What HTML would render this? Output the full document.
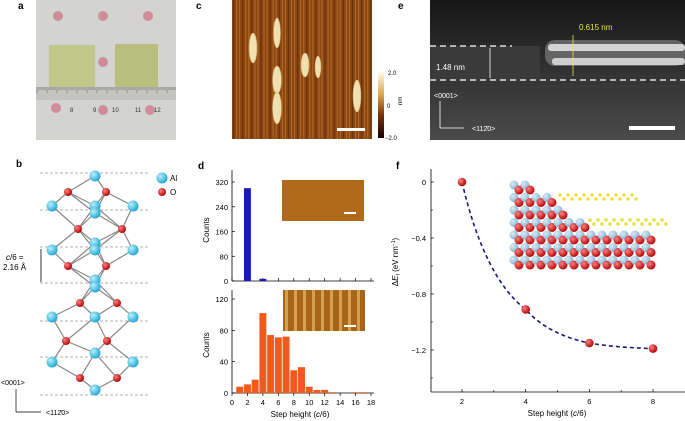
<!DOCTYPE html>
<html><head><meta charset="utf-8"><style>
html,body{margin:0;padding:0;background:#fff;}
svg{display:block;font-family:"Liberation Sans",Arial,sans-serif;}
</style></head><body>
<svg id="fig" width="685" height="421" viewBox="0 0 685 421" xmlns="http://www.w3.org/2000/svg">
<defs>
<linearGradient id="cbar" x1="0" y1="0" x2="0" y2="1"><stop offset="0" stop-color="#fffbe8"/><stop offset="0.35" stop-color="#d9a44a"/><stop offset="0.65" stop-color="#7a3508"/><stop offset="1" stop-color="#120200"/></linearGradient>
<radialGradient id="al" cx="0.35" cy="0.35" r="0.7"><stop offset="0" stop-color="#b8f0ff"/><stop offset="1" stop-color="#1aa6d0"/></radialGradient>
<radialGradient id="ox" cx="0.35" cy="0.35" r="0.7"><stop offset="0" stop-color="#ff8080"/><stop offset="1" stop-color="#b00000"/></radialGradient>
<radialGradient id="alf" cx="0.35" cy="0.35" r="0.7"><stop offset="0" stop-color="#d8ecf8"/><stop offset="1" stop-color="#7fb0d2"/></radialGradient>
<linearGradient id="stemg" x1="0" y1="0" x2="0" y2="1"><stop offset="0" stop-color="#161616"/><stop offset="0.35" stop-color="#2a2a2a"/><stop offset="1" stop-color="#4a4a4a"/></linearGradient>
</defs>

<!-- panel a -->
<g>
<text x="18" y="9" font-size="10" font-weight="bold">a</text>
<rect x="36" y="0" width="140" height="140" fill="#d3d3d0"/>
<rect x="49" y="45" width="46" height="45" fill="#c2c88a"/>
<rect x="115" y="44" width="43" height="46" fill="#b8bf7e"/>
<rect x="36" y="87" width="140" height="13" fill="#c4c4bf"/>
<g id="ticks" stroke="#555" stroke-width="0.5"></g>
<text x="70" y="112" font-size="6" fill="#333">8</text><text x="93" y="112" font-size="6" fill="#333">9</text>
<text x="112" y="112" font-size="6" fill="#333">10</text><text x="135" y="112" font-size="6" fill="#333">11</text><text x="154" y="112" font-size="6" fill="#333">12</text>
<g fill="#d07c8c" opacity="0.8">
<circle cx="58" cy="16" r="5"/><circle cx="103" cy="16" r="5"/><circle cx="148" cy="16" r="5"/><circle cx="103" cy="62" r="5"/>
<circle cx="56" cy="108" r="5"/><circle cx="103" cy="110" r="5"/><circle cx="150" cy="110" r="5"/>
</g>
</g>

<!-- panel c -->
<g>
<text x="196" y="9" font-size="10" font-weight="bold">c</text>
<rect x="232" y="0" width="140" height="139" fill="#8a4510"/>
<g id="afmStripes"></g>
<g fill="#eee0b0" stroke="#c9a460" stroke-width="0.6">
<ellipse cx="253" cy="48" rx="4" ry="15"/><ellipse cx="277" cy="33" rx="3.5" ry="15"/>
<ellipse cx="305" cy="65" rx="4" ry="12"/><ellipse cx="318" cy="67" rx="3" ry="11"/>
<ellipse cx="277" cy="80" rx="4.5" ry="14"/><ellipse cx="277" cy="108" rx="4.5" ry="16"/>
<ellipse cx="357" cy="96" rx="4" ry="16"/>
</g>
<rect x="337" y="128" width="28" height="3" fill="#fff"/>
<rect x="378" y="72" width="6" height="66" fill="url(#cbar)"/>
<text x="388" y="75" font-size="6">2.0</text><text x="387" y="108" font-size="6">0</text><text x="385" y="140" font-size="6">−2.0</text>
<text x="402" y="105" font-size="6" transform="rotate(-90 402 105)">nm</text>
</g>

<!-- panel e -->
<g>
<text x="398" y="9" font-size="10" font-weight="bold">e</text>
<rect x="430" y="0" width="255" height="140" fill="url(#stemg)"/>
<rect x="430" y="46" width="110" height="35" fill="#3a3a3a"/>
<rect x="545" y="40" width="140" height="26" rx="10" fill="#8a8a8a" opacity="0.6"/>
<rect x="548" y="44" width="137" height="7" rx="3" fill="#e8e8e8" opacity="0.85"/>
<rect x="552" y="58" width="133" height="7" rx="3" fill="#e0e0e0" opacity="0.85"/>
<line x1="430" y1="46" x2="512" y2="46" stroke="#fff" stroke-width="1.3" stroke-dasharray="6 4"/>
<line x1="430" y1="80" x2="685" y2="80" stroke="#fff" stroke-width="1.3" stroke-dasharray="6 4"/>
<line x1="490" y1="48" x2="490" y2="78" stroke="#fff" stroke-width="0.8"/>
<text x="436" y="70" font-size="8" fill="#fff">1.48 nm</text>
<text x="579" y="30" font-size="8" fill="#e6e64a">0.615 nm</text>
<line x1="573" y1="35" x2="573" y2="76" stroke="#e6e64a" stroke-width="0.8"/>
<text x="434" y="98" font-size="7" fill="#fff">&lt;0001&gt;</text>
<line x1="440" y1="101" x2="440" y2="128" stroke="#fff" stroke-width="0.8"/>
<line x1="440" y1="128" x2="464" y2="128" stroke="#fff" stroke-width="0.8"/>
<text x="472" y="131" font-size="7" fill="#fff">&lt;112̄0&gt;</text>
<rect x="629" y="126" width="46" height="4" fill="#fff"/>
</g>

<!-- panel b -->
<g id="panelB">
<text x="16" y="167" font-size="10" font-weight="bold">b</text>
<circle cx="162" cy="178" r="5.5" fill="url(#al)"/><text x="170" y="181" font-size="8">Al</text>
<circle cx="162" cy="192" r="4" fill="url(#ox)"/><text x="170" y="195" font-size="8">O</text>
<text x="6" y="260" font-size="8"><tspan font-style="italic">c</tspan>/6 =</text>
<text x="3" y="270" font-size="8">2.16 Å</text>
<line x1="41" y1="249" x2="41" y2="282" stroke="#000" stroke-width="0.8"/>
<text x="1" y="385" font-size="7">&lt;0001&gt;</text>
<line x1="16" y1="389" x2="16" y2="412" stroke="#000" stroke-width="0.7"/>
<line x1="16" y1="412" x2="41" y2="412" stroke="#000" stroke-width="0.7"/>
<text x="46" y="415" font-size="7">&lt;112̄0&gt;</text>
</g>

<!-- panel d -->
<g id="panelD">
<text x="198" y="169" font-size="10" font-weight="bold">d</text>
<rect x="282" y="180" width="82" height="41" fill="#b06a1a"/>
<rect x="344" y="212" width="12" height="2" fill="#fff"/>
<rect x="283" y="290" width="82" height="41" fill="#a86418"/>
<g id="insetStripes"></g>
<rect x="344" y="325" width="12" height="2" fill="#fff"/>
</g>

<!-- panel f -->
<g id="panelF">
<text x="396" y="169" font-size="10" font-weight="bold">f</text>
<g id="slab"></g>
</g>
</svg>
<script>
const NS="http://www.w3.org/2000/svg";
function mk(tag,attrs,parent){const e=document.createElementNS(NS,tag);for(const k in attrs)e.setAttribute(k,attrs[k]);(parent||document.getElementById('fig')).appendChild(e);return e;}

const tk=document.getElementById('ticks');
for(let i=0;i<70;i++){const x=37+i*2;mk('line',{x1:x,y1:87,x2:x,y2:i%5?90:93},tk);}
const afm=document.getElementById('afmStripes');
for(let i=0;i<46;i++){const x=233+i*3.05;mk('rect',{x:x,y:0,width:1.1,height:139,fill:i%3?'#c07a30':'#5a2a08',opacity:0.7},afm);}
const ins=document.getElementById('insetStripes');
for(let i=0;i<9;i++){mk('rect',{x:285+i*9,y:290,width:3,height:41,fill:'#e0b060',opacity:0.8},ins);}

const pb=document.getElementById('panelB');
const layerY=[173,210,247,283,321,357,395];
layerY.forEach(y=>mk('line',{x1:40,y1:y,x2:148,y2:y,stroke:'#999','stroke-width':0.7,'stroke-dasharray':'3 2'},pb));
const alAtoms=[[95,176],[52,206],[95,206],[133,206],[95,213],[52,250],[95,243],[95,250],[133,250],[95,280],[95,287],[52,317],[95,317],[133,317],[95,353],[52,362],[133,362],[95,390]];
const oAtoms=[[68,192],[106,192],[78,229],[122,229],[68,266],[106,266],[80,303],[117,303],[66,341],[107,341],[80,378],[117,378]];
oAtoms.forEach(o=>alAtoms.forEach(a=>{const d=Math.hypot(o[0]-a[0],o[1]-a[1]);if(d<45&&d>5)mk('line',{x1:o[0],y1:o[1],x2:a[0],y2:a[1],stroke:'#888','stroke-width':1.2},pb);}));
alAtoms.forEach(a=>{mk('circle',{cx:a[0],cy:a[1],r:5.5,fill:'url(#al)'},pb);});
oAtoms.forEach(a=>{mk('circle',{cx:a[0],cy:a[1],r:4,fill:'url(#ox)'},pb);});

// ---- panel d data ----
const topCats=[2,4];
const topCounts=[300,7];
const topTicks=[0,80,160,240,320];
const botCats=[1,2,3,4,5,6,7,8,9,10,11,12,13,14,15,16,17];
const botCounts=[8,11,17,102,74,71,72,29,33,8,4,4,1,0,0,1,1];
const botTicks=[0,40,80,120];
const xTicksD=[0,2,4,6,8,10,12,14,16,18];

const pd=document.getElementById('panelD');
const dx=v=>232+v*(371-232)/18;
const topY=v=>281-v*(281-182)/320;
const botY=v=>393-v*(393-299)/120;
mk('line',{x1:232,y1:170,x2:232,y2:281,stroke:'#000','stroke-width':0.8},pd);
mk('line',{x1:232,y1:281,x2:374,y2:281,stroke:'#000','stroke-width':0.8},pd);
mk('line',{x1:232,y1:290,x2:232,y2:393,stroke:'#000','stroke-width':0.8},pd);
mk('line',{x1:232,y1:393,x2:374,y2:393,stroke:'#000','stroke-width':0.8},pd);
topTicks.forEach(t=>{const y=topY(t);mk('line',{x1:232,y1:y,x2:235,y2:y,stroke:'#000','stroke-width':0.7},pd);const tx=mk('text',{x:228,y:y+3,'font-size':7.5,'text-anchor':'end'},pd);tx.textContent=t;});
botTicks.forEach(t=>{const y=botY(t);mk('line',{x1:232,y1:y,x2:235,y2:y,stroke:'#000','stroke-width':0.7},pd);const tx=mk('text',{x:228,y:y+3,'font-size':7.5,'text-anchor':'end'},pd);tx.textContent=t;});
xTicksD.forEach(t=>{const x=dx(t);mk('line',{x1:x,y1:393,x2:x,y2:396,stroke:'#000','stroke-width':0.7},pd);mk('line',{x1:x,y1:281,x2:x,y2:278,stroke:'#000','stroke-width':0.7},pd);const tx=mk('text',{x:x,y:405,'font-size':7.5,'text-anchor':'middle'},pd);tx.textContent=t;});
topCats.forEach((c,i)=>{const b=mk('rect',{x:dx(c-0.45),y:topY(topCounts[i]),width:dx(0.9)-232,height:281-topY(topCounts[i]),fill:'#1a1ab8'},pd);

});
botCats.forEach((c,i)=>{const b=mk('rect',{x:dx(c-0.45),y:botY(botCounts[i]),width:dx(0.9)-232,height:393-botY(botCounts[i]),fill:'#f05a1e'},pd);

});
let yl=mk('text',{x:209,y:230,'font-size':8,'text-anchor':'middle',transform:'rotate(-90 209 230)'},pd);yl.textContent='Counts';


yl=mk('text',{x:209,y:345,'font-size':8,'text-anchor':'middle',transform:'rotate(-90 209 345)'},pd);yl.textContent='Counts';


let xl=mk('text',{x:300,y:417,'font-size':8,'text-anchor':'middle'},pd);xl.innerHTML='Step height (<tspan font-style="italic">c</tspan>/6)';



// ---- panel f data ----
const fSteps=[2,4,6,8];
const fEnergy=[0,-0.91,-1.15,-1.19];
const fYTicks=[0,-0.4,-0.8,-1.2];
const fXTicks=[2,4,6,8];

const pf=document.getElementById('panelF');
const fx=v=>462+(v-2)*(653-462)/6;
const fy=v=>182-v*(350-182)/1.2;
const slab=document.getElementById('slab');
for(let r=0;r<7;r++){const y=185+r*12.5;const x0=514;const x1=r<4?514+(r+1)*18:655;
 for(let x=x0;x<=x1;x+=11){mk('circle',{cx:x,cy:y,r:4.5,fill:'url(#alf)'},slab);mk('circle',{cx:x+5,cy:y+5,r:4.5,fill:'url(#ox)'},slab);}}
for(let i=0;i<20;i++){mk('circle',{cx:560+i*4,cy:195+(i%2)*4,r:1.8,fill:'#e8e040'},slab);mk('circle',{cx:590+i*4,cy:220+(i%2)*4,r:1.8,fill:'#e8e040'},slab);}
mk('line',{x1:431,y1:169,x2:431,y2:392,stroke:'#000','stroke-width':0.8},pf);
mk('line',{x1:431,y1:392,x2:685,y2:392,stroke:'#000','stroke-width':0.8},pf);
fYTicks.forEach(t=>{const y=fy(t);mk('line',{x1:431,y1:y,x2:434,y2:y,stroke:'#000','stroke-width':0.7},pf);const tx=mk('text',{x:426,y:y+3,'font-size':7.5,'text-anchor':'end'},pf);tx.textContent=(t===0?'0':t.toFixed(1).replace('-','−'));});
[-0.2,-0.6,-1.0,-1.4].forEach(t=>{const y=fy(t);mk('line',{x1:431,y1:y,x2:433,y2:y,stroke:'#000','stroke-width':0.6},pf);});
fXTicks.forEach(t=>{const x=fx(t);mk('line',{x1:x,y1:392,x2:x,y2:389,stroke:'#000','stroke-width':0.7},pf);const tx=mk('text',{x:x,y:404,'font-size':7.5,'text-anchor':'middle'},pf);tx.textContent=t;});
[3,5,7].forEach(t=>{const x=fx(t);mk('line',{x1:x,y1:392,x2:x,y2:390,stroke:'#000','stroke-width':0.6},pf);});
let d='M'+fx(fSteps[0])+','+fy(fEnergy[0]);
for(let i=1;i<fSteps.length;i++){const x0=fx(fSteps[i-1]),y0=fy(fEnergy[i-1]),x1=fx(fSteps[i]),y1=fy(fEnergy[i]);
 d+=' Q'+(x0+(x1-x0)*0.35)+','+(y0+(y1-y0)*0.75)+' '+x1+','+y1;}
const ln=mk('path',{d:d,fill:'none',stroke:'#1a1a7a','stroke-width':1.6,'stroke-dasharray':'4 3'},pf);


fSteps.forEach((s,i)=>{const c=mk('circle',{cx:fx(s),cy:fy(fEnergy[i]),r:4.3,fill:'url(#ox)'},pf);

});
yl=mk('text',{x:398,y:262,'font-size':8,'text-anchor':'middle',transform:'rotate(-90 398 262)'},pf);yl.innerHTML='Δ<tspan font-style="italic">E</tspan><tspan font-size="5" dy="2">f</tspan><tspan dy="-2"> (eV nm</tspan><tspan font-size="5" dy="-3">−1</tspan><tspan dy="3">)</tspan>';


xl=mk('text',{x:557,y:416,'font-size':8,'text-anchor':'middle'},pf);xl.innerHTML='Step height (<tspan font-style="italic">c</tspan>/6)';


</script>
</body></html>
